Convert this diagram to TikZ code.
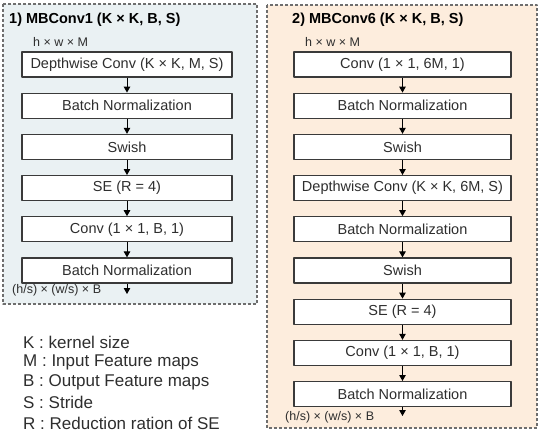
\documentclass[tikz,border=0pt]{standalone}
\usepackage{fontspec}
\setmainfont{Liberation Sans}
\usetikzlibrary{positioning,arrows.meta}
\definecolor{PanelBlue}{HTML}{EAF1F3}
\definecolor{PanelPeach}{HTML}{FDEDDD}
\definecolor{DashGray}{HTML}{6E6E6E}
\definecolor{BoxLine}{HTML}{3A3A3A}
\definecolor{TextGray}{HTML}{2E2E2E}

\begin{document}
\begin{tikzpicture}[
  x=1pt, y=-1pt,
  line join=round,
  >={Triangle[length=6pt,width=6.5pt]},
  layer/.style={draw=BoxLine, line width=1.2pt, fill=white, minimum height=25pt,
    inner sep=0pt, text=TextGray, font=\fontsize{14.5}{17}\selectfont},
  panel/.style={draw=DashGray, line width=1.3pt, dash pattern=on 3pt off 2pt},
  flow/.style={->, black, line width=1pt},
  title/.style={anchor=west, inner sep=0pt, font=\fontsize{14.5}{17}\selectfont\bfseries},
  dims/.style={anchor=west, inner sep=0pt, text=TextGray, font=\fontsize{12.5}{15}\selectfont},
  node distance=15pt
]

\useasboundingbox (0,0) rectangle (544,434);

% === Panels ===
\filldraw[panel, fill=PanelBlue] (3,4) rectangle (257,304);
\filldraw[panel, fill=PanelPeach] (267,5) rectangle (537,428);

% === 1) MBConv1 ===
\node[title] (t1) at (9,20) {1) MBConv1 (K × K, B, S)};
\node[dims] (in1) at (33,42) {h × w × M};
\node[layer, minimum width=210pt] (a1) at (127,64.5) {Depthwise Conv (K × K, M, S)};
\node[layer, minimum width=210pt, below=of a1] (a2) {Batch Normalization};
\node[layer, minimum width=210pt, below=of a2] (a3) {Swish};
\node[layer, minimum width=210pt, below=of a3] (a4) {SE (R = 4)};
\node[layer, minimum width=210pt, below=of a4] (a5) {Conv (1 × 1, B, 1)};
\node[layer, minimum width=210pt, below=of a5] (a6) {Batch Normalization};
\coordinate (a7) at (127,294);
\node[dims] (out1) at (12,290) {(h/s) × (w/s) × B};

\foreach \s/\t in {a1/a2,a2/a3,a3/a4,a4/a5,a5/a6} {
  \draw[flow] (\s.south) -- (\t.north);
}
\draw[flow] (a6.south) -- (a7);

% === 2) MBConv6 ===
\node[title] (t2) at (292,20) {2) MBConv6 (K × K, B, S)};
\node[dims] (in2) at (305,42) {h × w × M};
\node[layer, minimum width=217pt] (b1) at (402.5,64.5) {Conv (1 × 1, 6M, 1)};
\node[layer, minimum width=217pt, below=of b1] (b2) {Batch Normalization};
\node[layer, minimum width=217pt, below=of b2] (b3) {Swish};
\node[layer, minimum width=217pt, below=of b3] (b4) {Depthwise Conv (K × K, 6M, S)};
\node[layer, minimum width=217pt, below=of b4] (b5) {Batch Normalization};
\node[layer, minimum width=217pt, below=of b5] (b6) {Swish};
\node[layer, minimum width=217pt, below=of b6] (b7) {SE (R = 4)};
\node[layer, minimum width=217pt, below=of b7] (b8) {Conv (1 × 1, B, 1)};
\node[layer, minimum width=217pt, below=of b8] (b9) {Batch Normalization};
\coordinate (b10) at (402.5,416);
\node[dims] (out2) at (285,417) {(h/s) × (w/s) × B};

\foreach \s/\t in {b1/b2,b2/b3,b3/b4,b4/b5,b5/b6,b6/b7,b7/b8,b8/b9} {
  \draw[flow] (\s.south) -- (\t.north);
}
\draw[flow] (b9.south) -- (b10);

% === Legend ===
\foreach \y/\txt [count=\i] in {342/K : kernel size, 362/M : Input Feature maps,
  382/B : Output Feature maps, 402.5/S : Stride, 423/R : Reduction ration of SE} {
  \node[anchor=west, inner sep=0pt, text=TextGray, font=\fontsize{17}{20}\selectfont] (leg\i) at (23,\y) {\txt};
}

\end{tikzpicture}
\end{document}
